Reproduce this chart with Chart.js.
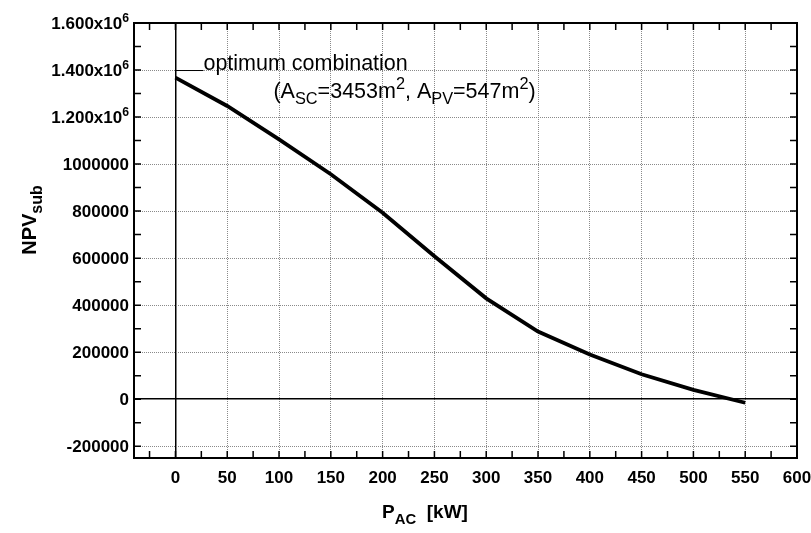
<!DOCTYPE html>
<html>
<head>
<meta charset="utf-8">
<script src="https://cdn.jsdelivr.net/npm/chart.js@4.4.1/dist/chart.umd.min.js"></script>
<style>
  html, body { margin: 0; padding: 0; background: #fff; }
</style>
</head>
<body>
<canvas id="chartCanvas" width="811" height="533"></canvas>
<script>
// NPV_sub against inverter size P_AC
const pAc = [0, 50, 100, 150, 200, 250, 300, 350, 400, 450, 500, 550];
const npvSub = [1368000, 1247000, 1105000, 957000, 793000, 608000, 429000, 288000, 190000, 106000, 40000, -15000];

const xTicks = [0, 50, 100, 150, 200, 250, 300, 350, 400, 450, 500, 550, 600];
const xTickLabels = ['0', '50', '100', '150', '200', '250', '300', '350', '400', '450', '500', '550', '600'];
const yTicks = [-200000, 0, 200000, 400000, 600000, 800000, 1000000, 1200000, 1400000, 1600000];
const yTickLabels = ['-200000', '0', '200000', '400000', '600000', '800000', '1000000',
  '1.200x10^{6}', '1.400x10^{6}', '1.600x10^{6}'];

const xTitle = 'P_{AC}  [kW]';
const yTitle = 'NPV_{sub}';
const noteLine1 = 'optimum combination';
const noteLine2 = '(A_{SC}=3453m^{2}, A_{PV}=547m^{2})';

const FONT = '"Liberation Sans", Arial, Helvetica, sans-serif';

// text with _{sub} and ^{sup} parts
function drawRich(ctx, text, x, y, size, weight, align, ratio) {
  const parts = [];
  const re = /([_^])\{([^}]*)\}/g;
  let last = 0, m;
  while ((m = re.exec(text))) {
    if (m.index > last) parts.push({ t: text.slice(last, m.index), k: '' });
    parts.push({ t: m[2], k: m[1] });
    last = re.lastIndex;
  }
  if (last < text.length) parts.push({ t: text.slice(last), k: '' });

  const small = size * (ratio || 0.7);
  const font = s => weight + ' ' + s + 'px ' + FONT;
  let total = 0;
  parts.forEach(p => {
    ctx.font = font(p.k ? small : size);
    p.w = ctx.measureText(p.t).width;
    total += p.w;
  });
  let cx = align === 'right' ? x - total : align === 'center' ? x - total / 2 : x;
  ctx.textAlign = 'left';
  ctx.textBaseline = 'alphabetic';
  parts.forEach(p => {
    ctx.font = font(p.k ? small : size);
    const dy = p.k === '_' ? size * 0.3 : p.k === '^' ? -size * 0.42 : 0;
    ctx.fillText(p.t, cx, y + dy);
    cx += p.w;
  });
}

function midpoints(arr) {
  const out = [];
  for (let i = 0; i < arr.length - 1; i++) out.push((arr[i] + arr[i + 1]) / 2);
  return out;
}

const framePlugin = {
  id: 'frame',
  afterDraw(chart) {
    const ctx = chart.ctx;
    const a = chart.chartArea;
    const xs = chart.scales.x;
    const ys = chart.scales.y;
    const tl = 7;
    ctx.save();
    ctx.strokeStyle = '#000';
    ctx.fillStyle = '#000';

    // tick marks, pointing inward on every side
    ctx.lineWidth = 1.5;
    const xMarks = xTicks.concat(midpoints(xTicks), [-25]);
    const yMarks = yTicks.concat(midpoints(yTicks));
    ctx.beginPath();
    xMarks.forEach(v => {
      const px = xs.getPixelForValue(v);
      if (px <= a.left + 1 || px >= a.right - 1) return;
      ctx.moveTo(px, a.bottom); ctx.lineTo(px, a.bottom - tl);
      ctx.moveTo(px, a.top); ctx.lineTo(px, a.top + tl);
    });
    yMarks.forEach(v => {
      const py = ys.getPixelForValue(v);
      if (py <= a.top + 1 || py >= a.bottom - 1) return;
      ctx.moveTo(a.left, py); ctx.lineTo(a.left + tl, py);
      ctx.moveTo(a.right, py); ctx.lineTo(a.right - tl, py);
    });
    ctx.stroke();

    // frame
    ctx.lineWidth = 2;
    ctx.strokeRect(a.left, a.top, a.right - a.left, a.bottom - a.top);

    // tick labels
    xTicks.forEach((v, i) => {
      drawRich(ctx, xTickLabels[i], xs.getPixelForValue(v), 483, 17, 'bold', 'center');
    });
    yTicks.forEach((v, i) => {
      drawRich(ctx, yTickLabels[i], 129, ys.getPixelForValue(v) + 6, 17, 'bold', 'right', 0.72);
    });

    // axis titles
    drawRich(ctx, xTitle, 425, 518, 19, 'bold', 'center', 0.78);
    ctx.save();
    ctx.translate(36, 220);
    ctx.rotate(-Math.PI / 2);
    drawRich(ctx, yTitle, 0, 0, 20, 'bold', 'center', 0.8);
    ctx.restore();

    // annotation at the optimum
    const x0 = xs.getPixelForValue(0);
    const yA = ys.getPixelForValue(1400000);
    ctx.lineWidth = 1;
    ctx.beginPath();
    ctx.moveTo(x0, yA + 0.5);
    ctx.lineTo(x0 + 28, yA + 0.5);
    ctx.stroke();
    drawRich(ctx, noteLine1, x0 + 28, yA, 21.5, 'normal', 'left');
    drawRich(ctx, noteLine2, x0 + 98, yA + 28, 21.5, 'normal', 'left', 0.76);
    ctx.restore();
  }
};

const isZero = c => c.tick && c.tick.value === 0;

const ctx = document.getElementById('chartCanvas').getContext('2d');
new Chart(ctx, {
  type: 'line',
  data: {
    labels: pAc,
    datasets: [{
      data: pAc.map((x, i) => ({ x: x, y: npvSub[i] })),
      borderColor: '#000',
      borderWidth: 3.8,
      pointRadius: 0,
      tension: 0,
      fill: false
    }]
  },
  options: {
    responsive: false,
    animation: false,
    events: [],
    layout: { padding: { left: 134, top: 23, right: 14, bottom: 75 } },
    plugins: { legend: { display: false }, tooltip: { enabled: false } },
    scales: {
      x: {
        type: 'linear',
        min: -40,
        max: 600,
        afterBuildTicks: s => { s.ticks = xTicks.map(v => ({ value: v })); },
        afterFit: s => { s.height = 0; },
        ticks: { display: false },
        grid: {
          drawTicks: false,
          color: c => isZero(c) ? '#000' : '#8a8a8a',
          lineWidth: c => isZero(c) ? 1.5 : 1
        },
        border: { display: false, dash: c => isZero(c) ? [] : [1, 1] }
      },
      y: {
        type: 'linear',
        min: -250000,
        max: 1600000,
        afterBuildTicks: s => { s.ticks = yTicks.map(v => ({ value: v })); },
        afterFit: s => { s.width = 0; },
        ticks: { display: false },
        grid: {
          drawTicks: false,
          color: c => isZero(c) ? '#000' : '#8a8a8a',
          lineWidth: c => isZero(c) ? 1.5 : 1
        },
        border: { display: false, dash: c => isZero(c) ? [] : [1, 1] }
      }
    }
  },
  plugins: [framePlugin]
});
</script>
</body>
</html>
